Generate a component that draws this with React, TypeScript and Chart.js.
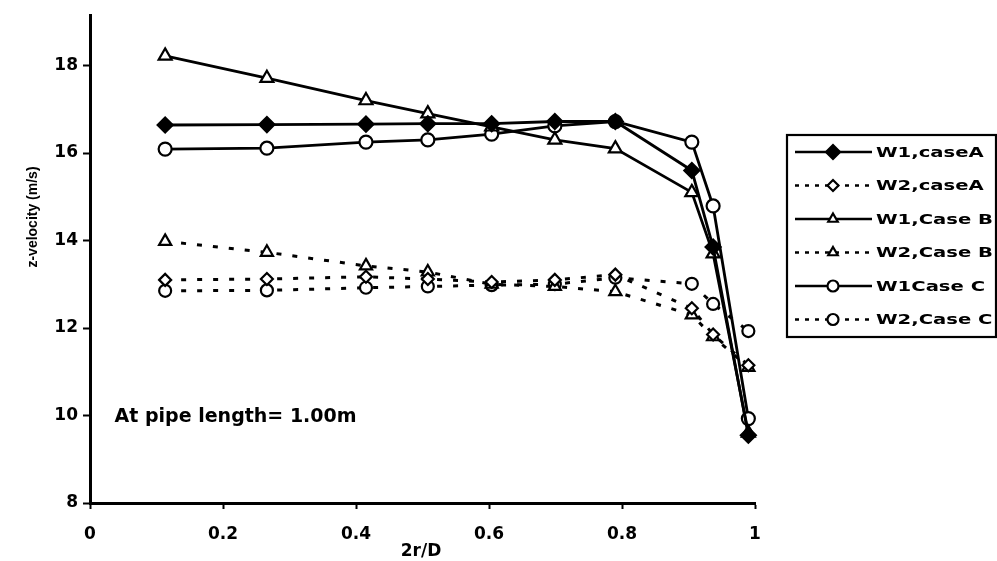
import React, { useEffect, useRef } from "react";
import { Chart, registerables } from "chart.js";

Chart.register(...registerables);

// ---- data ----
const xPositions = [0.113, 0.266, 0.415, 0.508, 0.604, 0.699, 0.79, 0.905, 0.937, 0.99];
const w1CaseA = [16.64, 16.65, 16.66, 16.67, 16.67, 16.72, 16.72, 15.6, 13.85, 9.55];
const w2CaseA = [13.1, 13.12, 13.17, 13.12, 13.05, 13.1, 13.22, 12.45, 11.85, 11.15];
const w1CaseB = [18.22, 17.71, 17.2, 16.9, 16.6, 16.3, 16.1, 15.1, 13.7, 9.6];
const w2CaseB = [13.98, 13.73, 13.42, 13.28, 13.0, 12.95, 12.83, 12.3, 11.8, 11.1];
const w1CaseC = [16.09, 16.11, 16.25, 16.3, 16.43, 16.62, 16.72, 16.25, 14.79, 9.93];
const w2CaseC = [12.85, 12.86, 12.92, 12.95, 12.98, 13.0, 13.15, 13.01, 12.55, 11.93];

const seriesLabels = ["W1,caseA", "W2,caseA", "W1,Case B", "W2,Case B", "W1Case C", "W2,Case C"];
const yTickValues = [8, 10, 12, 14, 16, 18];
const xTickValues = [0, 0.2, 0.4, 0.6, 0.8, 1];
const xTitle = "2r/D";
const yTitle = "z-velocity (m/s)";
const noteText = "At pipe length= 1.00m";

type Marker = "rectRot" | "triangle" | "circle";

function drawMarker(ctx: CanvasRenderingContext2D, style: Marker, x: number, y: number, r: number, filled: boolean) {
  ctx.save();
  ctx.beginPath();
  if (style === "circle") {
    ctx.arc(x, y, r, 0, Math.PI * 2);
  } else if (style === "rectRot") {
    ctx.moveTo(x - r, y);
    ctx.lineTo(x, y - r);
    ctx.lineTo(x + r, y);
    ctx.lineTo(x, y + r);
    ctx.closePath();
  } else {
    const a = Math.PI / 6;
    ctx.moveTo(x, y - r);
    ctx.lineTo(x + Math.cos(a) * r, y + Math.sin(a) * r);
    ctx.lineTo(x - Math.cos(a) * r, y + Math.sin(a) * r);
    ctx.closePath();
  }
  ctx.fillStyle = filled ? "#000" : "#fff";
  ctx.fill();
  ctx.lineWidth = 2.2;
  ctx.strokeStyle = "#000";
  ctx.setLineDash([]);
  ctx.stroke();
  ctx.restore();
}

const markerInfo: { style: Marker; filled: boolean; dotted: boolean; r: number }[] = [
  { style: "rectRot", filled: true, dotted: false, r: 7.5 },
  { style: "rectRot", filled: false, dotted: true, r: 6 },
  { style: "triangle", filled: false, dotted: false, r: 7.5 },
  { style: "triangle", filled: false, dotted: true, r: 7 },
  { style: "circle", filled: false, dotted: false, r: 6.5 },
  { style: "circle", filled: false, dotted: true, r: 6 },
];

const decorPlugin = {
  id: "decor",
  afterDraw(chart: any) {
    const ctx: CanvasRenderingContext2D = chart.ctx;
    ctx.save();
    // legend box
    const left = 787, top = 135, right = 996, bottom = 337;
    ctx.lineWidth = 2.2;
    ctx.strokeStyle = "#000";
    ctx.strokeRect(left, top, right - left, bottom - top);
    seriesLabels.forEach((label, i) => {
      const m = markerInfo[i];
      const y = 152 + i * 33.5;
      ctx.beginPath();
      ctx.lineWidth = 2.5;
      ctx.setLineDash(m.dotted ? [4, 6] : []);
      ctx.moveTo(795, y);
      ctx.lineTo(872, y);
      ctx.stroke();
      ctx.setLineDash([]);
      drawMarker(ctx, m.style, 833, y, m.style === "rectRot" && m.filled ? 7 : 5.5, m.filled);
      ctx.save();
      ctx.translate(876, y);
      ctx.scale(1.4, 1);
      ctx.font = "bold 14px 'DejaVu Sans'";
      ctx.fillStyle = "#000";
      ctx.textBaseline = "middle";
      ctx.textAlign = "left";
      ctx.fillText(label, 0, 1);
      ctx.restore();
    });
    // annotation
    const xs = chart.scales.x, ys = chart.scales.y;
    ctx.font = "bold 19px 'DejaVu Sans'";
    ctx.fillStyle = "#000";
    ctx.textAlign = "left";
    ctx.textBaseline = "alphabetic";
    ctx.fillText(noteText, xs.getPixelForValue(0.037), ys.getPixelForValue(9.86));
    // axis titles
    ctx.font = "bold 17px 'DejaVu Sans'";
    ctx.textAlign = "center";
    ctx.textBaseline = "middle";
    ctx.fillText(xTitle, 421, 552);
    ctx.save();
    ctx.translate(33, 217);
    ctx.rotate(-Math.PI / 2);
    ctx.font = "bold 14px 'Liberation Sans'";
    ctx.fillText(yTitle, 0, 0);
    ctx.restore();
    ctx.restore();
  },
};

export default function App() {
  const ref = useRef<HTMLCanvasElement | null>(null);
  useEffect(() => {
    if (!ref.current) return;
    const series = [w1CaseA, w2CaseA, w1CaseB, w2CaseB, w1CaseC, w2CaseC];
    const datasets = series.map((vals, i) => {
      const m = markerInfo[i];
      return {
        label: seriesLabels[i],
        data: vals.map((v, j) => ({ x: xPositions[j], y: v })),
        borderColor: "#000",
        borderWidth: m.dotted ? 3 : 2.8,
        borderDash: m.dotted ? [5, 11] : [],
        backgroundColor: m.filled ? "#000" : "#fff",
        pointStyle: m.style,
        pointRadius: m.r,
        pointBorderWidth: 2.2,
        pointBorderColor: "#000",
        pointBackgroundColor: m.filled ? "#000" : "#fff",
        fill: false,
        tension: 0,
        clip: false as any,
      };
    });
    const chart = new Chart(ref.current, {
      type: "line",
      data: { datasets },
      options: {
        responsive: false,
        animation: false,
        layout: { padding: { left: 0, top: 13, right: 242, bottom: 0 } },
        plugins: { legend: { display: false }, tooltip: { enabled: false } },
        scales: {
          x: {
            type: "linear",
            min: 0,
            max: 1,
            afterBuildTicks: (s: any) => {
              s.ticks = xTickValues.map((v) => ({ value: v }));
            },
            afterFit: (s: any) => {
              s.height = 58;
            },
            grid: { drawOnChartArea: false, drawTicks: true, tickLength: 6, tickColor: "#000", tickWidth: 2 },
            border: { display: true, color: "#000", width: 3 },
            ticks: {
              color: "#000",
              font: { family: "'DejaVu Sans'", weight: "bold", size: 17 },
              padding: 15,
              maxRotation: 0,
              callback: (v: any) => String(Number(Number(v).toFixed(1))),
            },
          },
          y: {
            type: "linear",
            min: 8,
            max: 19.15,
            afterBuildTicks: (s: any) => {
              s.ticks = yTickValues.map((v) => ({ value: v }));
            },
            afterFit: (s: any) => {
              s.width = 90;
            },
            grid: { drawOnChartArea: false, drawTicks: true, tickLength: 7, tickColor: "#000", tickWidth: 2 },
            border: { display: true, color: "#000", width: 3 },
            ticks: {
              color: "#000",
              font: { family: "'DejaVu Sans'", weight: "bold", size: 17 },
              padding: 5,
              callback: (v: any) => String(v),
            },
          },
        },
      } as any,
      plugins: [decorPlugin],
    });
    return () => chart.destroy();
  }, []);
  return (
    <div style={{ position: "fixed", left: 0, top: 0, width: 997, height: 561, background: "#fff" }}>
      <canvas ref={ref} width={997} height={561} />
    </div>
  );
}
